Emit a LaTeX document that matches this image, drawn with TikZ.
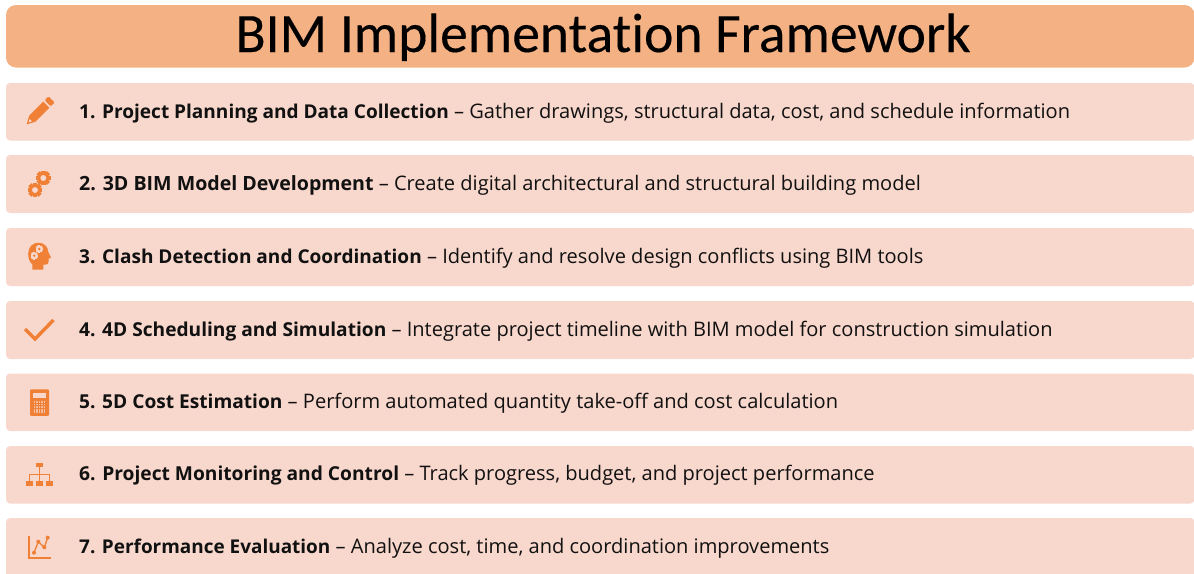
\documentclass[tikz,border=0pt]{standalone}
\usepackage{fontspec}
\setmainfont{Open Sans}
\newfontfamily\titlefont[Ligatures=NoCommon,FakeBold=0.25]{Carlito}
\definecolor{titlefill}{HTML}{F4B183}
\definecolor{barfill}{HTML}{F8D7CC}
\definecolor{iconcol}{HTML}{EF8036}
\definecolor{txt}{HTML}{111111}
\newcommand{\lead}[2]{{\fontsize{#1}{23}\selectfont\bfseries #2}}
\tikzset{
  x=1pt,y=-1pt,
  barbox/.style={fill=barfill,draw=none,rounded corners=4pt},
  rowtext/.style={anchor=base west,inner sep=0pt,text=txt,font=\fontsize{20.05}{23}\selectfont},
  ico/.style={fill=iconcol,draw=none},
  icoline/.style={draw=iconcol,line width=1.6pt}
}
\newcommand{\gearicon}[3]{% x y radius
  \begin{scope}[shift={(#1,#2)}]
    \foreach \a in {0,45,...,315}{
      \fill[iconcol,rotate=\a] (-0.3*#3,0) rectangle (0.3*#3,-#3);
    }
    \fill[iconcol] (0,0) circle[radius=0.76*#3];
    \fill[barfill] (0,0) circle[radius=0.4*#3];
  \end{scope}
}
\newcommand{\smallgear}[3]{%
  \begin{scope}[shift={(#1,#2)}]
    \foreach \a in {0,45,...,315}{
      \fill[barfill,rotate=\a] (-0.3*#3,0) rectangle (0.3*#3,-#3);
    }
    \fill[barfill] (0,0) circle[radius=0.76*#3];
    \fill[iconcol] (0,0) circle[radius=0.35*#3];
  \end{scope}
}
\begin{document}
\begin{tikzpicture}
\useasboundingbox (0,0) rectangle (1194,573);
\begin{scope}
\clip (0,0) rectangle (1194,573);
\fill[titlefill,rounded corners=10pt] (6,5) rectangle (1194.5,67.5);
\fill[barbox] (6,83) rectangle (1194.5,140.5);
\fill[barbox] (6,155) rectangle (1194.5,213);
\fill[barbox] (6,228) rectangle (1194.5,286);
\fill[barbox] (6,301) rectangle (1194.5,359);
\fill[barbox] (6,373.5) rectangle (1194.5,431);
\fill[barbox] (6,446) rectangle (1194.5,503.5);
\fill[barbox] (6,518) rectangle (1194.5,580);
\end{scope}
\node[anchor=base,inner sep=0pt,text=black,font=\titlefont\fontsize{55.6}{60}\selectfont] (title) at (603,52) {BIM Implementation Framework};
\node[rowtext] (r1) at (79,118) {\lead{19.05}{1. Project Planning and Data Collection} – Gather drawings, structural data, cost, and schedule information};
\node[rowtext] (r2) at (79,190) {\lead{19.6}{2. 3D BIM Model Development} – Create digital architectural and structural building model};
\node[rowtext] (r3) at (79,263) {\lead{19.05}{3. Clash Detection and Coordination} – Identify and resolve design conflicts using BIM tools};
\node[rowtext] (r4) at (79,336) {\lead{19.15}{4. 4D Scheduling and Simulation} – Integrate project timeline with BIM model for construction simulation};
\node[rowtext] (r5) at (79,408) {\lead{19.15}{5. 5D Cost Estimation} – Perform automated quantity take-off and cost calculation};
\node[rowtext] (r6) at (79,480) {\lead{19.2}{6. Project Monitoring and Control} – Track progress, budget, and project performance};
\node[rowtext] (r7) at (79,553) {\lead{18.95}{7. Performance Evaluation} – Analyze cost, time, and coordination improvements};
% pencil
\fill[ico] (26.7,124.3) -- (29.2,115.6) -- (43.2,101.6) -- (49.4,107.8) -- (35.4,121.8) -- cycle;
\fill[ico,rounded corners=1pt] (44.6,100.2) -- (48.6,96.4) -- (54.6,102.4) -- (50.8,106.4) -- cycle;
\fill[barfill] (28.7,122.3) -- (29.6,119) -- (32,121.4) -- cycle;
% gears
\gearicon{43.3}{178}{7.4}
\gearicon{35}{190}{7.4}
% head
\fill[ico] (32.3,269.5) -- (32.3,264.5) .. controls (29.5,261.5) and (28,258) .. (28.2,253.5)
  .. controls (28.5,246.5) and (33,242.5) .. (39,242.7)
  .. controls (45,243) and (48,247.5) .. (48.3,252)
  -- (51,257.5) -- (48.6,258.8) -- (48.6,262) .. controls (48.5,264) and (47,264.8) .. (45,264.6)
  -- (43.3,264.6) -- (43.3,269.5) -- cycle;
\smallgear{39.3}{249}{3.8}
\smallgear{34.3}{255.7}{3.8}
% check
\draw[draw=iconcol,line width=3.4pt] (25,329) -- (35,339) -- (53.5,320);
% calculator
\fill[ico,rounded corners=1pt] (30,389.3) rectangle (49,415.8);
\fill[barfill] (33.3,393) rectangle (45.7,398.3);
\foreach \r in {0,1,2,3,4}{
  \foreach \c in {0,1,2,3,4}{
    \fill[barfill!70!iconcol] ({33.6+2.5*\c},{401+2.6*\r}) rectangle ++(1.7,1.8);
  }
}
% org chart
\fill[ico] (36,463.3) rectangle (43.4,467.4);
\fill[ico] (26,481) rectangle (32.8,485.8);
\fill[ico] (36,481) rectangle (43.4,485.8);
\fill[ico] (46,481) rectangle (53.3,485.8);
\draw[draw=iconcol,line width=1pt] (39.7,467) -- (39.7,481);
\draw[draw=iconcol,line width=1pt] (29.4,481) -- (29.4,474.4) -- (49.7,474.4) -- (49.7,481);
% chart
\draw[icoline] (28.8,535.7) -- (28.8,558.2) -- (51,558.2);
\draw[draw=iconcol,line width=1.3pt] (34,552.7) -- (38.3,541.7) -- (44.3,547.3) -- (47.7,537.7);
\fill[ico] (34,552.7) circle[radius=2];
\fill[ico] (38.3,541.7) circle[radius=2];
\fill[ico] (44.3,547.3) circle[radius=2];
\fill[ico] (47.7,537.7) circle[radius=2];
\end{tikzpicture}
\end{document}
